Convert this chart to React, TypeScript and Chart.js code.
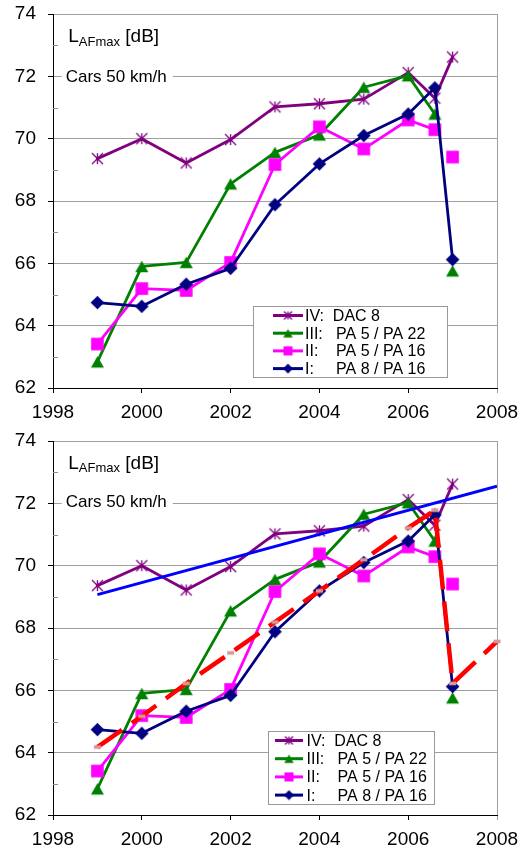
import React, { useEffect, useRef } from 'react';
import { Chart, registerables } from 'chart.js';

Chart.register(...registerables);

// ---------- data ----------
const years = [1999, 2000, 2001, 2002, 2003, 2004, 2005, 2006, 2006.6, 2007];
const dac8 = [69.36, 70.0, 69.22, 69.97, 71.02, 71.12, 71.27, 72.12, 71.3, 72.62];
const pa5pa22 = [62.84, 65.9, 66.03, 68.55, 69.56, 70.12, 71.65, 72.02, 70.79, 65.76];
const pa5pa16 = [63.41, 65.19, 65.13, 66.03, 69.17, 70.38, 69.67, 70.6, 70.29, 69.41];
const pa8pa16 = [64.74, 64.62, 65.33, 65.84, 67.88, 69.19, 70.1, 70.79, 71.63, 66.12];

const trendYears = [1999, 2008];
const trendValues = [69.07, 72.55];

const stepYears = [1999, 2000, 2001, 2002, 2003, 2004, 2005, 2006, 2006.6, 2007, 2008];
const stepValues = [64.18, 65.17, 66.22, 67.2, 68.19, 69.19, 70.19, 71.21, 71.78, 66.22, 67.57];

const xTicks = [1998, 2000, 2002, 2004, 2006, 2008];
const yTicks = [62, 64, 66, 68, 70, 72, 74];
const yMinorTicks = [63, 65, 67, 69, 71, 73];

const seriesLabels = ['IV:  DAC 8', 'III:   PA 5 / PA 22', 'II:    PA 5 / PA 16', 'I:     PA 8 / PA 16'];
const seriesValues = [dac8, pa5pa22, pa5pa16, pa8pa16];
const seriesColors = ['#800080', '#008000', '#FF00FF', '#000080'];
const seriesMarkers = ['star', 'triangle', 'square', 'diamond'];
const seriesBreakBeforeLast = [false, true, true, false];

const titleMain = 'L';
const titleSub = 'AFmax';
const titleUnit = '[dB]';
const subtitle = 'Cars 50 km/h';

// ---------- styling / layout ----------
const FONT = '"Liberation Sans", Arial, sans-serif';
Chart.defaults.font.family = FONT;

const panels = [
  {
    offsetTop: 0,
    padTop: 14,
    xHeight: 37,
    trends: false,
    titleX: 68.3,
    titleBase: 42.3,
    carsX: 65.7,
    carsY: 76,
    legend: { x: 253, y: 306, w: 194, h: 71, row0: 315.5, step: 17.7, line0: 273, line1: 303, textX: 305 },
  },
  {
    offsetTop: 425,
    padTop: 16,
    xHeight: 35,
    trends: true,
    titleX: 68.3,
    titleBase: 43.5,
    carsX: 65.7,
    carsY: 76.5,
    legend: { x: 268, y: 306, w: 166, h: 73, row0: 315.5, step: 18.2, line0: 275, line1: 303, textX: 306.5 },
  },
];

function makeMarker(kind: string, color: string, scale = 1): HTMLCanvasElement {
  const c = document.createElement('canvas');
  const size = Math.ceil(15 * scale);
  c.width = size;
  c.height = size;
  const g = c.getContext('2d')!;
  const cx = size / 2;
  const cy = size / 2;
  g.fillStyle = color;
  g.strokeStyle = color;
  if (kind === 'star') {
    const r = 5.5 * scale;
    g.lineWidth = 1.3;
    g.beginPath();
    g.moveTo(cx - r, cy - r);
    g.lineTo(cx + r, cy + r);
    g.moveTo(cx - r, cy + r);
    g.lineTo(cx + r, cy - r);
    g.moveTo(cx, cy - r);
    g.lineTo(cx, cy + r);
    g.stroke();
  } else if (kind === 'triangle') {
    const w = 6.5 * scale;
    const h = 5.8 * scale;
    g.beginPath();
    g.moveTo(cx, cy - h);
    g.lineTo(cx + w, cy + h);
    g.lineTo(cx - w, cy + h);
    g.closePath();
    g.fill();
  } else if (kind === 'square') {
    const s = 6.3 * scale;
    g.fillRect(cx - s, cy - s, 2 * s, 2 * s);
  } else if (kind === 'diamond') {
    const r = 6.8 * scale;
    g.beginPath();
    g.moveTo(cx, cy - r);
    g.lineTo(cx + r, cy);
    g.lineTo(cx, cy + r);
    g.lineTo(cx - r, cy);
    g.closePath();
    g.fill();
  } else if (kind === 'dash') {
    g.fillRect(cx - 3.5, cy - 1.8, 7, 3.6);
  }
  return c;
}

function buildConfig(p: any): any {
  const markers = seriesMarkers.map((m, i) => makeMarker(m, seriesColors[i]));
  const legendMarkers = seriesMarkers.map((m, i) => makeMarker(m, seriesColors[i], 0.72));
  const redMarker = makeMarker('dash', '#D99694');

  const datasets: any[] = [];
  if (p.trends) {
    datasets.push({
      label: 'trend step',
      data: stepYears.map((x, i) => ({ x, y: stepValues[i] })),
      borderColor: '#FF0000',
      borderWidth: 4.5,
      borderDash: [30, 12],
      pointStyle: redMarker,
      pointRadius: 3,
      clip: false,
      order: 0,
    });
    datasets.push({
      label: 'trend',
      data: trendYears.map((x, i) => ({ x, y: trendValues[i] })),
      borderColor: '#0000FF',
      borderWidth: 3,
      pointRadius: 0,
      order: 1,
    });
  }
  for (let i = 3; i >= 0; i--) {
    const brk = seriesBreakBeforeLast[i];
    datasets.push({
      label: seriesLabels[i],
      data: years.map((x, k) => ({ x, y: seriesValues[i][k] })),
      borderColor: seriesColors[i],
      borderWidth: 2.8,
      borderJoinStyle: 'round',
      borderCapStyle: 'round',
      pointStyle: markers[i],
      pointRadius: 5,
      segment: {
        borderColor: (ctx: any) => (brk && ctx.p1DataIndex === years.length - 1 ? 'rgba(0,0,0,0)' : undefined),
      },
      order: 2 + (3 - i),
    });
  }

  const decor = {
    id: 'decor',
    beforeDatasetsDraw(chart: any) {
      const ctx = chart.ctx;
      const area = chart.chartArea;
      const ys = chart.scales.y;
      ctx.save();
      // minor ticks inside
      ctx.strokeStyle = '#8c8c8c';
      ctx.lineWidth = 1;
      ctx.beginPath();
      for (const v of yMinorTicks) {
        const y = Math.round(ys.getPixelForValue(v)) + 0.5;
        ctx.moveTo(area.left, y);
        ctx.lineTo(area.left + 5, y);
      }
      ctx.stroke();
      // title
      ctx.fillStyle = '#000';
      ctx.textBaseline = 'alphabetic';
      ctx.textAlign = 'left';
      let x = p.titleX;
      ctx.font = `19px ${FONT}`;
      ctx.fillText(titleMain, x, p.titleBase);
      x += ctx.measureText(titleMain).width;
      ctx.font = `13px ${FONT}`;
      ctx.fillText(titleSub, x, p.titleBase + 3.4);
      x += ctx.measureText(titleSub).width;
      ctx.font = `19px ${FONT}`;
      x += ctx.measureText(' ').width;
      ctx.fillText(titleUnit, x, p.titleBase);
      // subtitle with white background
      ctx.font = `17px ${FONT}`;
      const w = ctx.measureText(subtitle).width;
      ctx.fillStyle = '#fff';
      ctx.fillRect(p.carsX - 4, p.carsY - 10, w + 10, 20);
      ctx.fillStyle = '#000';
      ctx.textBaseline = 'middle';
      ctx.fillText(subtitle, p.carsX, p.carsY + 1);
      ctx.restore();
    },
    afterDatasetsDraw(chart: any) {
      const ctx = chart.ctx;
      const L = p.legend;
      ctx.save();
      ctx.fillStyle = '#fff';
      ctx.fillRect(L.x, L.y, L.w, L.h);
      ctx.strokeStyle = '#999';
      ctx.lineWidth = 1;
      ctx.strokeRect(L.x + 0.5, L.y + 0.5, L.w, L.h);
      for (let i = 0; i < 4; i++) {
        const y = L.row0 + i * L.step;
        ctx.strokeStyle = seriesColors[i];
        ctx.lineWidth = 3;
        ctx.beginPath();
        ctx.moveTo(L.line0, y);
        ctx.lineTo(L.line1, y);
        ctx.stroke();
        const m = legendMarkers[i];
        ctx.drawImage(m, (L.line0 + L.line1) / 2 - m.width / 2, y - m.height / 2);
        ctx.fillStyle = '#000';
        ctx.font = `16px ${FONT}`;
        ctx.textBaseline = 'middle';
        ctx.textAlign = 'left';
        ctx.fillText(seriesLabels[i], L.textX, y + 1);
      }
      ctx.restore();
    },
  };

  return {
    type: 'line',
    data: { datasets },
    plugins: [decor],
    options: {
      responsive: false,
      maintainAspectRatio: false,
      animation: false,
      devicePixelRatio: 1,
      layout: { padding: { top: p.padTop, right: 26, left: 0, bottom: 0 } },
      plugins: { legend: { display: false }, tooltip: { enabled: false }, title: { display: false } },
      elements: { line: { tension: 0 } },
      scales: {
        x: {
          type: 'linear',
          min: 1998,
          max: 2008,
          afterBuildTicks: (s: any) => {
            s.ticks = xTicks.map((v) => ({ value: v }));
          },
          afterFit: (s: any) => {
            s.height = p.xHeight;
            s.paddingLeft = 0;
            s.paddingRight = 0;
          },
          ticks: {
            color: '#000',
            font: { size: 19, family: FONT },
            padding: 8,
            maxRotation: 0,
            autoSkip: false,
            callback: (v: any) => String(v),
          },
          grid: {
            color: (c: any) => (c.tick && c.tick.value === 2008 ? '#a0a0a0' : 'rgba(0,0,0,0)'),
            tickColor: (c: any) => (c.tick && c.tick.value === 2008 ? '#a0a0a0' : '#000'),
            tickLength: 5,
            lineWidth: 1,
          },
          border: { color: '#000', width: 1 },
        },
        y: {
          type: 'linear',
          min: 62,
          max: 74,
          afterBuildTicks: (s: any) => {
            s.ticks = yTicks.map((v) => ({ value: v }));
          },
          afterFit: (s: any) => {
            s.width = 53;
            s.paddingTop = 0;
            s.paddingBottom = 0;
          },
          ticks: {
            color: '#000',
            font: { size: 19, family: FONT },
            padding: 12,
            callback: (v: any) => String(v),
          },
          grid: {
            color: '#a0a0a0',
            tickColor: '#000',
            tickLength: 5,
            lineWidth: 1,
          },
          border: { color: '#000', width: 1 },
        },
      },
    },
  };
}

function Panel({ p }: { p: any }) {
  const ref = useRef<HTMLCanvasElement | null>(null);
  useEffect(() => {
    if (!ref.current) return;
    const chart = new Chart(ref.current, buildConfig(p));
    return () => chart.destroy();
  }, [p]);
  return (
    <canvas
      ref={ref}
      width={523}
      height={425}
      style={{ position: 'absolute', left: 0, top: p.offsetTop, width: 523, height: 425, display: 'block' }}
    />
  );
}

export default function App() {
  return (
    <div style={{ position: 'absolute', left: 0, top: 0, width: 523, height: 850, background: '#fff' }}>
      {panels.map((p, i) => (
        <Panel key={i} p={p} />
      ))}
    </div>
  );
}
